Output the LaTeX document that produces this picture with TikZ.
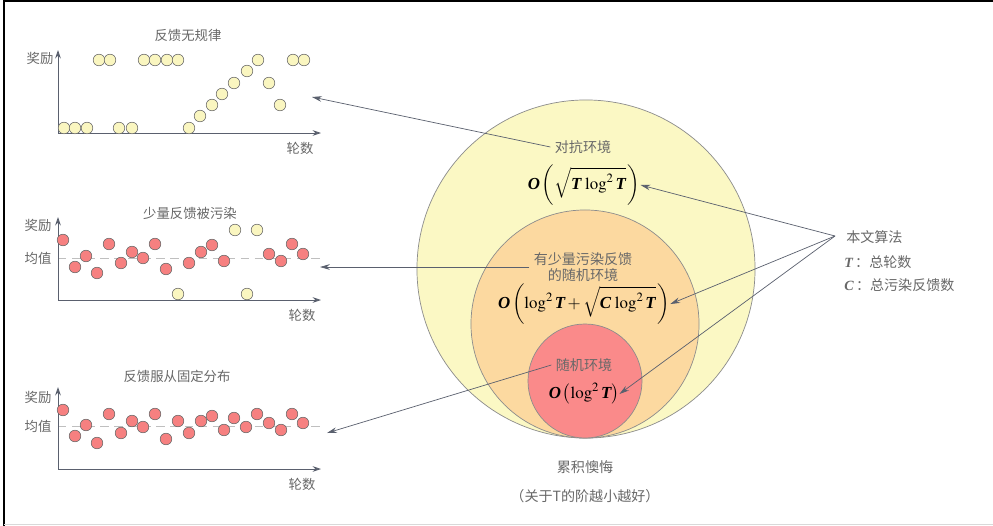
\documentclass[tikz,border=0pt]{standalone}
\usepackage{amsmath}
\usepackage{mathptmx}
\usepackage{fontspec}
\setmainfont{Liberation Serif}
\newfontfamily\cjk{Noto Sans CJK SC}
\usetikzlibrary{positioning, arrows.meta}
\definecolor{advfill}{RGB}{251,248,196}
\definecolor{corfill}{RGB}{252,217,160}
\definecolor{stofill}{RGB}{250,138,138}
\definecolor{dotred}{RGB}{246,128,128}
\definecolor{dotyel}{RGB}{250,246,192}
\definecolor{txtgray}{RGB}{104,104,104}
\definecolor{linegray}{RGB}{90,96,110}
\newcommand{\bv}[1]{\mbox{\rmfamily\bfseries\itshape #1}}

\begin{document}
\begin{tikzpicture}[x=0.025cm, y=-0.025cm, >=Stealth,
    lbl/.style={font=\cjk\fontsize{9.5}{11}\selectfont, text=txtgray, inner sep=1pt},
    envtxt/.style={font=\cjk\fontsize{10}{12}\selectfont, text=txtgray, align=center, inner sep=0pt},
    formula/.style={font=\fontsize{12}{14}\selectfont, inner sep=0pt},
    axis/.style={draw=linegray, line width=0.6pt, -{Stealth[length=6pt, width=4pt]}},
    mean/.style={draw=black!25, line width=0.6pt, dash pattern=on 6pt off 4pt},
    rdot/.style={circle, draw=black!60, line width=0.4pt, fill=dotred, minimum size=0.29cm, inner sep=0pt},
    ydot/.style={circle, draw=black!60, line width=0.4pt, fill=dotyel, minimum size=0.29cm, inner sep=0pt},
    ptr/.style={draw=linegray, line width=0.5pt, -{Stealth[length=7pt, width=4pt]}}]
    \useasboundingbox (0,0) rectangle (993,526);
    \fill[white] (0,0) rectangle (993,526);
    % frame
    \draw[black, line width=1.6pt] (4,526) -- (4,1) -- (993,1);
    \draw[black!15, line width=0.6pt] (4,524) -- (993,524);

    % regret circles
    \draw[draw=black!45, fill=advfill, line width=0.5pt] (586,438) ++(0,-169) circle[radius=4.225cm];
    \draw[draw=black!45, fill=corfill, line width=0.5pt] (585,438) ++(0,-114) circle[radius=2.85cm];
    \draw[draw=black!45, fill=stofill, line width=0.5pt] (585,438) ++(0,-57) circle[radius=1.425cm];

    \node[envtxt] (adv) at (583,147) {对抗环境};
    \node[formula] (advf) at (584,185) {$\bv{O}\left(\sqrt{\bv{T}\,\log^2\bv{T}}\,\right)$};
    \node[envtxt] (cor) at (583,267) {有少量污染反馈\\[-1pt]的随机环境};
    \node[formula] (corf) at (584,304) {$\bv{O}\left(\log^2\bv{T}+\sqrt{\bv{C}\,\log^2\bv{T}}\,\right)$};
    \node[envtxt] (sto) at (584,365) {随机环境};
    \node[formula] (stof) at (584,394) {$\bv{O}\left(\log^2\bv{T}\right)$};
    \node[envtxt] (regret) at (585,467) {累积懊悔};
    \node[envtxt] (order) at (585,496) {（关于T的阶越小越好）};

    % legend
    \node[envtxt, anchor=west] (alg) at (846,237) {本文算法};
    \node[envtxt, anchor=west] (algT) at (844,262) {\bv{T}\,：总轮数};
    \node[envtxt, anchor=west] (algC) at (844,285) {\bv{C}\,：总污染反馈数};
    \coordinate (src) at (835,236);
    \draw[ptr] (src) -- (advf.east);
    \draw[ptr] (src) -- (corf.east);
    \draw[ptr] (src) -- (stof.east);

    % chart 1: no pattern
    \coordinate (o1) at (58,133);
    \coordinate (ya) at (58,50);
    \coordinate (xa) at (321,133);
    \draw[axis] (o1) -- (ya);
    \draw[axis] (o1) -- (xa);
    \node[lbl] (t1) at (188,35) {反馈无规律};
    \node[lbl] (r1) at (40,58) {奖励};
    \node[lbl] (n1) at (300,148) {轮数};
    \foreach \x/\y [count=\i] in {64/128, 75/128, 87/128, 119/128, 132/128, 189/128,
        99/60, 110/60, 144/60, 155/60, 167/60, 178/60, 293/60, 304/60,
        200/116, 212/105, 222/94, 234/83, 247/71, 258/60, 269/83, 280/105}
        \node[ydot] (pa\i) at (\x,\y) {};

    % chart 2: few corrupted
    \coordinate (o2) at (58,300);
    \coordinate (yb) at (58,217);
    \coordinate (xb) at (321,300);
    \coordinate (mb) at (320,258);
    \draw[mean] (o2 |- mb) -- (mb);
    \draw[axis] (o2) -- (yb);
    \draw[axis] (o2) -- (xb);
    \node[lbl] (t2) at (190,213) {少量反馈被污染};
    \node[lbl] (r2) at (38,225) {奖励};
    \node[lbl] (m2) at (38,258) {均值};
    \node[lbl] (n2) at (302,315) {轮数};
    \foreach \x/\y [count=\i] in {63/240, 75/267, 86/256, 97/273, 109/244, 121/263,
        132/252, 143/258, 155/244, 166/269, 189/263, 201/252, 212/245, 224/261,
        269/254, 281/261, 292/244, 303/254}
        \node[rdot] (pb\i) at (\x,\y) {};
    \foreach \x/\y [count=\i] in {178/294, 235/230, 257/230, 247/294}
        \node[ydot] (qb\i) at (\x,\y) {};

    % chart 3: fixed distribution
    \coordinate (o3) at (58,469);
    \coordinate (yc) at (58,387);
    \coordinate (xc) at (321,469);
    \coordinate (mc) at (320,426);
    \draw[mean] (o3 |- mc) -- (mc);
    \draw[axis] (o3) -- (yc);
    \draw[axis] (o3) -- (xc);
    \node[lbl] (t3) at (177,376) {反馈服从固定分布};
    \node[lbl] (r3) at (38,397) {奖励};
    \node[lbl] (m3) at (38,426) {均值};
    \node[lbl] (n3) at (302,484) {轮数};
    \foreach \x/\y [count=\i] in {63/410, 75/436, 86/425, 97/443, 109/414, 121/433,
        132/421, 143/427, 155/414, 166/439, 178/421, 189/433, 201/421, 212/416,
        224/430, 234/418, 246/427, 257/414, 269/423, 281/430, 292/414, 303/423}
        \node[rdot] (pc\i) at (\x,\y) {};

    % env -> chart
    \coordinate (ea) at (312,97);
    \coordinate (eb) at (320,267);
    \coordinate (ec) at (327,433);
    \draw[ptr] ([xshift=-3pt]adv.west) -- (ea);
    \draw[ptr] ([xshift=-3pt]cor.west) -- (eb);
    \draw[ptr] ([xshift=-3pt]sto.west) -- (ec);
\end{tikzpicture}
\end{document}
